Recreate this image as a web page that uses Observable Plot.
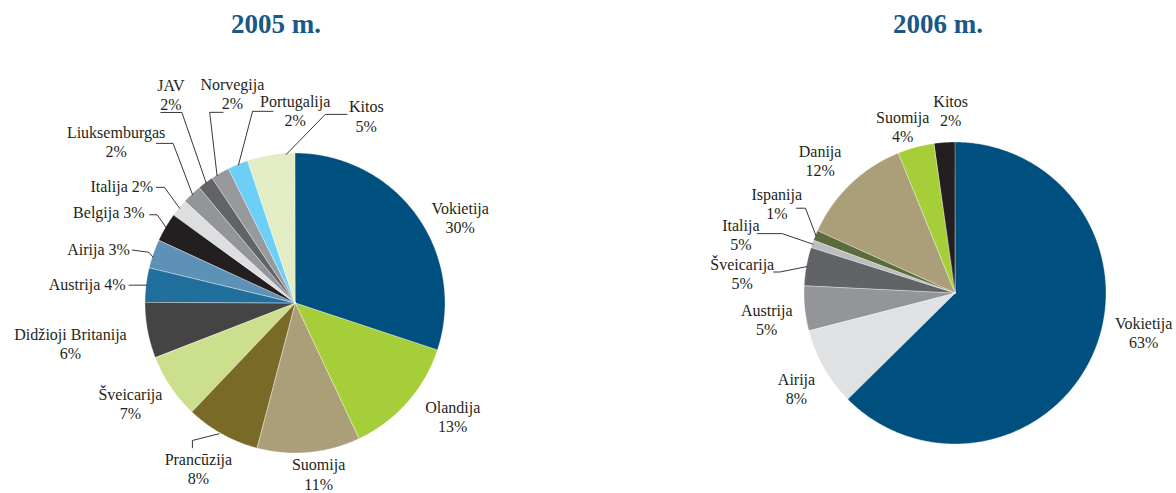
<!DOCTYPE html>
<html>
<head>
<meta charset="utf-8">
<script src="https://cdn.jsdelivr.net/npm/d3@7"></script>
<script src="https://cdn.jsdelivr.net/npm/@observablehq/plot@0.6"></script>
<style>
  html, body { margin: 0; padding: 0; background: #ffffff; }
  #wrap { position: relative; width: 1176px; height: 493px; overflow: hidden; }
  .title { position: absolute; top: 9px; line-height: 27px; font: bold 27px "Liberation Serif", serif; color: #1a5888; transform: translateX(-50%); white-space: nowrap; }
  .pie { position: absolute; top: 0; }
  .pie svg { overflow: visible; font-family: "Liberation Serif", serif; }
  .pie svg text { font-family: "Liberation Serif", serif; }
</style>
</head>
<body>
<div id="wrap"></div>
<script>
// ---------- DATA ----------
const titles = ["2005 m.", "2006 m."];

const cats2005 = ["Vokietija", "Olandija", "Suomija", "Prancūzija", "Šveicarija", "Didžioji Britanija",
  "Austrija", "Airija", "Belgija", "Italija", "Liuksemburgas", "JAV", "Norvegija", "Portugalija", "Kitos"];
const vals2005 = [30.1, 12.9, 11.1, 8.0, 7.0, 6.0, 3.7, 3.1, 3.1, 1.9, 2.1, 1.7, 2.0, 2.2, 5.1];
const pct2005 = ["30%", "13%", "11%", "8%", "7%", "6%", "4%", "3%", "3%", "2%", "2%", "2%", "2%", "2%", "5%"];
const colors2005 = ["#00507f", "#a6ce39", "#ab9f79", "#7a6a27", "#cbdf8d", "#444444", "#216f9c", "#5d91b8",
  "#231f20", "#dddee0", "#939598", "#616366", "#97999c", "#6dcff6", "#e2ecc5"];

const cats2006 = ["Vokietija", "Airija", "Austrija", "Šveicarija", "Italija", "Ispanija", "Danija", "Suomija", "Kitos"];
const vals2006 = [62.6, 8.4, 4.8, 4.1, 0.8, 1.1, 12.1, 3.9, 2.2];
const pct2006 = ["63%", "8%", "5%", "5%", "5%", "1%", "12%", "4%", "2%"];
const colors2006 = ["#00507f", "#e0e1e3", "#939598", "#616366", "#bbbdc0", "#5b6b3b", "#ab9f79", "#a6ce39", "#231f20"];

// ---------- LABEL LAYOUT (pixel offsets from each slice's outer edge at its mid-angle) ----------
// mode: "block" = name above value, centred; "inline" = "name value" on one line, right-aligned
const layout2005 = [
  {mode: "block", off: [43, 2]},
  {mode: "block", off: [45, 13.5]},
  {mode: "block", off: [9.5, 21]},
  {mode: "block", off: [-24, 34], leader: [[-3.5, -0.7], [-30, 6], [-30, 13.3]]},
  {mode: "block", off: [-40.5, 16.5]},
  {mode: "block", off: [-77.5, 13]},
  {mode: "inline", off: [-21, -0.4], leader: [[0, 0], [-17.5, 0]]},
  {mode: "inline", off: [-24, -4], leader: [[-0.7, 3.3], [-5, -1.7], [-21.5, -4]]},
  {mode: "inline", off: [-21.5, -15], leader: [[0, 0], [-9, -12.8], [-16.5, -12.8]]},
  {mode: "inline", off: [-26.5, -21.5], leader: [[0, 0], [-15.2, -20.9], [-23.2, -20.9]]},
  {mode: "block", off: [-76.4, -52.8], leader: [[0, 0], [-19.4, -51.1], [-36.1, -51.1]]},
  {mode: "block", off: [-35.3, -88.5], leader: [[0, 0], [-24.3, -70.5], [-45.3, -70.5]]},
  {mode: "block", off: [11.6, -79.8], leader: [[-3.7, 2.2], [-11.1, -61.1], [2.3, -61.1]]},
  {mode: "block", off: [56.7, -54.1], leader: [[0, 0], [14, -53.4], [34.4, -53.4]]},
  {mode: "block", off: [94.7, -39.5], leader: [[14.7, -1], [53.7, -41], [75.4, -41]]}
];
const layout2006 = [
  {mode: "block", off: [48.8, -19.3]},
  {mode: "block", off: [-27.6, 20.2]},
  {mode: "block", off: [-38.5, 10.5]},
  {mode: "block", off: [-64.7, 6.5], leader: [[0, 0], [-27.1, 5.4], [-33.4, 5.4]]},
  {mode: "block", off: [-71.9, -10.1], leader: [[0, 0], [-30.5, -10.5], [-55.5, -10.5]]},
  {mode: "block", off: [-39.2, -32.2], leader: [[0, 0], [-10.5, -27.5], [-19.5, -27.5]]},
  {mode: "block", off: [-31, -23.7]},
  {mode: "block", off: [-13.9, -21.3]},
  {mode: "block", off: [5.6, -32.3]}
];

// ---------- PANELS ----------
const panels = [
  {title: titles[0], names: cats2005, values: vals2005, pct: pct2005, colors: colors2005, layout: layout2005,
   left: 0, width: 588, cx: 295, cy: 303, R: 150, titleX: 276},
  {title: titles[1], names: cats2006, values: vals2006, pct: pct2006, colors: colors2006, layout: layout2006,
   left: 588, width: 588, cx: 367, cy: 293, R: 151, titleX: 350}
];

const TEXT = "#231f20";
const FONT = "Liberation Serif";
const wrap = document.getElementById("wrap");

function makePie(p) {
  const arcs = d3.pie().sort(null).value(d => d)(p.values);
  const step = Math.PI / 360;
  const pts = [];
  arcs.forEach((a, i) => {
    const n = Math.max(2, Math.ceil((a.endAngle - a.startAngle) / step));
    for (let j = 0; j <= n; j++) {
      const t = a.startAngle + (a.endAngle - a.startAngle) * j / n;
      pts.push({name: p.names[i], color: p.colors[i], x: Math.sin(t), y: Math.cos(t), x0: 0, y0: 0});
    }
  });

  const blocks = [], inlines = [], leaders = [];
  arcs.forEach((a, i) => {
    const m = (a.startAngle + a.endAngle) / 2;
    const ex = Math.sin(m), ey = Math.cos(m);
    const L = p.layout[i];
    const lx = ex + L.off[0] / p.R, ly = ey - L.off[1] / p.R;
    if (L.mode === "block") blocks.push({x: lx, y: ly, text: p.names[i] + "\n" + p.pct[i]});
    else inlines.push({x: lx, y: ly, text: p.names[i] + " " + p.pct[i]});
    if (L.leader) L.leader.forEach(o => leaders.push({id: p.names[i], x: ex + o[0] / p.R, y: ey - o[1] / p.R}));
  });

  const chart = Plot.plot({
    width: p.width,
    height: 493,
    margin: 0,
    x: {domain: [-1, 1], range: [p.cx - p.R, p.cx + p.R], axis: null},
    y: {domain: [-1, 1], range: [p.cy + p.R, p.cy - p.R], axis: null},
    color: {type: "identity"},
    style: {fontSize: "16px", background: "transparent", overflow: "visible"},
    marks: [
      Plot.area(pts, {x1: "x", y1: "y", x2: "x0", y2: "y0", z: "name", fill: "color", stroke: "white", strokeWidth: 0.5, strokeOpacity: 0.7}),
      Plot.line(leaders, {x: "x", y: "y", z: "id", stroke: "#231f20", strokeWidth: 0.9}),
      Plot.text(blocks, {x: "x", y: "y", text: "text", textAnchor: "middle", lineAnchor: "middle", lineHeight: 1.2, fill: TEXT, fontSize: 16, fontFamily: FONT}),
      Plot.text(inlines, {x: "x", y: "y", text: "text", textAnchor: "end", lineAnchor: "middle", fill: TEXT, fontSize: 16, fontFamily: FONT})
    ]
  });
  const holder = document.createElement("div");
  holder.className = "pie";
  holder.style.left = p.left + "px";
  holder.appendChild(chart);
  wrap.appendChild(holder);

  const t = document.createElement("div");
  t.className = "title";
  t.style.left = (p.left + p.titleX) + "px";
  t.textContent = p.title;
  wrap.appendChild(t);
}

panels.forEach(makePie);
</script>
</body>
</html>
